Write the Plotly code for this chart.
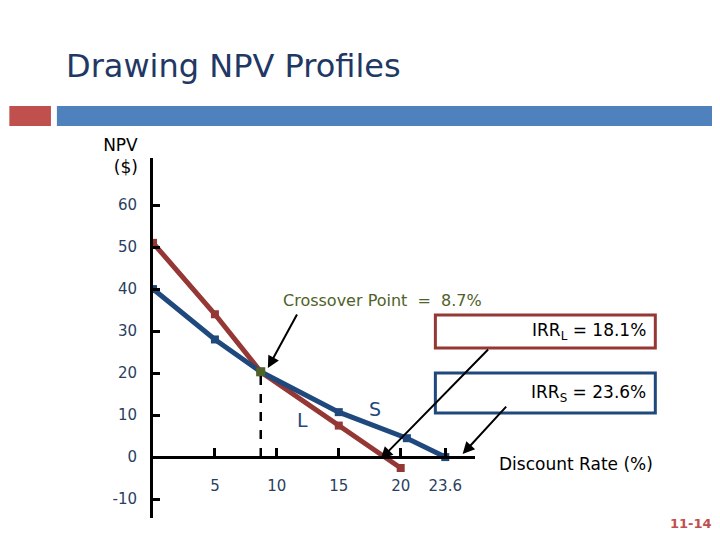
import plotly.graph_objects as go

L_x = [0, 5, 8.7, 15, 20]
L_y = [51, 34, 20.3, 7.5, -2.6]
S_x = [0, 5, 8.7, 15, 20.5, 23.6]
S_y = [40, 28, 20.3, 10.7, 4.5, 0]
cross_x, cross_y = 8.7, 20.3
x_ticks = [5, 10, 15, 20, 23.6]
x_labels = ["5", "10", "15", "20", "23.6"]
y_ticks = [-10, 0, 10, 20, 30, 40, 50, 60]

RED = "#953735"
BLUE = "#1F497D"
F = "DejaVu Sans"

def px(x): return (x - 145) / 12.4
def py(y): return (449 - y) / 4.2

fig = go.Figure()
fig.add_trace(go.Scatter(x=L_x, y=L_y, mode="lines+markers",
    line=dict(color=RED, width=5), marker=dict(symbol="square", size=8, color=RED)))
fig.add_trace(go.Scatter(x=S_x, y=S_y, mode="lines+markers",
    line=dict(color=BLUE, width=5), marker=dict(symbol="square", size=8, color=BLUE)))
fig.add_trace(go.Scatter(x=[cross_x], y=[cross_y], mode="markers",
    marker=dict(symbol="square", size=9, color="#4F6228")))
fig.add_shape(type="line", x0=cross_x, x1=cross_x, y0=0, y1=cross_y,
    line=dict(color="black", width=2.5, dash="dash"))

# decorative title bar
fig.add_shape(type="rect", xref="paper", yref="paper", x0=-145/325, x1=(42-145)/325,
    y0=(510-118)/360, y1=(510-98)/360, fillcolor="#C0504D", line_width=0)
fig.add_shape(type="rect", xref="paper", yref="paper", x0=(48-145)/325, x1=(720-145)/325,
    y0=(510-118)/360, y1=(510-98)/360, fillcolor="#4F81BD", line_width=0)

ann = []
def txt(x, y, t, size=17, color="black", xanchor="center", **kw):
    ann.append(dict(xref="paper", yref="paper", x=(x-145)/325, y=(510-y)/360, text=t,
        showarrow=False, xanchor=xanchor, yanchor="middle",
        font=dict(family=F, size=size, color=color), **kw))
txt(55, 58, "Drawing NPV Profiles", 32, "#1F3864", xanchor="left")
txt(112, 148, "NPV<br>  ($)", 17, "black", align="center")
txt(377, 292, "Crossover Point  =  8.7%", 16, "#4F6228")
txt(572, 456, "Discount Rate (%)", 17, "black")
txt(296, 412, "L", 19, BLUE)
txt(369, 401, "S", 19, BLUE)
txt(688, 515, "<b>11-14</b>", 13, "#C0504D")
for (y0, y1, col, t) in [(307, 340, RED, "IRR<sub>L</sub> = 18.1%"), (365, 405, BLUE, "IRR<sub>S</sub> = 23.6%")]:
    fig.add_shape(type="rect", xref="paper", yref="paper", x0=(430-145)/325, x1=(652-145)/325,
        y0=(510-y1)/360, y1=(510-y0)/360, line=dict(color=col, width=3), fillcolor="white", layer="below")
    txt(585, (y0+y1)/2, t, 17, "black")

for (hx, hy, tx, ty) in [(260, 360, 290, 305), (373, 451, 482, 340), (455, 446, 500, 397)]:
    ann.append(dict(xref="x", yref="y", axref="x", ayref="y", x=px(hx), y=py(hy),
        ax=px(tx), ay=py(ty), showarrow=True, arrowhead=2, arrowsize=1.2, arrowwidth=2, arrowcolor="black", text=""))

fig.update_layout(width=720, height=540, margin=dict(l=145, r=253, t=150, b=30, autoexpand=False),
    paper_bgcolor="white", plot_bgcolor="rgba(0,0,0,0)", showlegend=False, annotations=ann,
    xaxis=dict(range=[0, 26], tickvals=x_ticks, ticktext=x_labels, showgrid=False, zeroline=False,
        anchor="free", position=(510-449)/360, showline=True, linecolor="black", linewidth=3, automargin=False,
        ticks="inside", ticklen=8, tickwidth=3, tickcolor="black", tickfont=dict(family=F, size=15), ticklabelstandoff=14),
    yaxis=dict(range=[-14.5, 71.2], tickvals=y_ticks, ticktext=[str(v) for v in y_ticks], showgrid=False, zeroline=False,
        automargin=False, showline=True, linecolor="black", linewidth=3, ticks="inside", ticklen=7, tickwidth=3,
        tickcolor="black", tickfont=dict(family=F, size=15), ticklabelstandoff=10))
fig.write_html("out.html")
